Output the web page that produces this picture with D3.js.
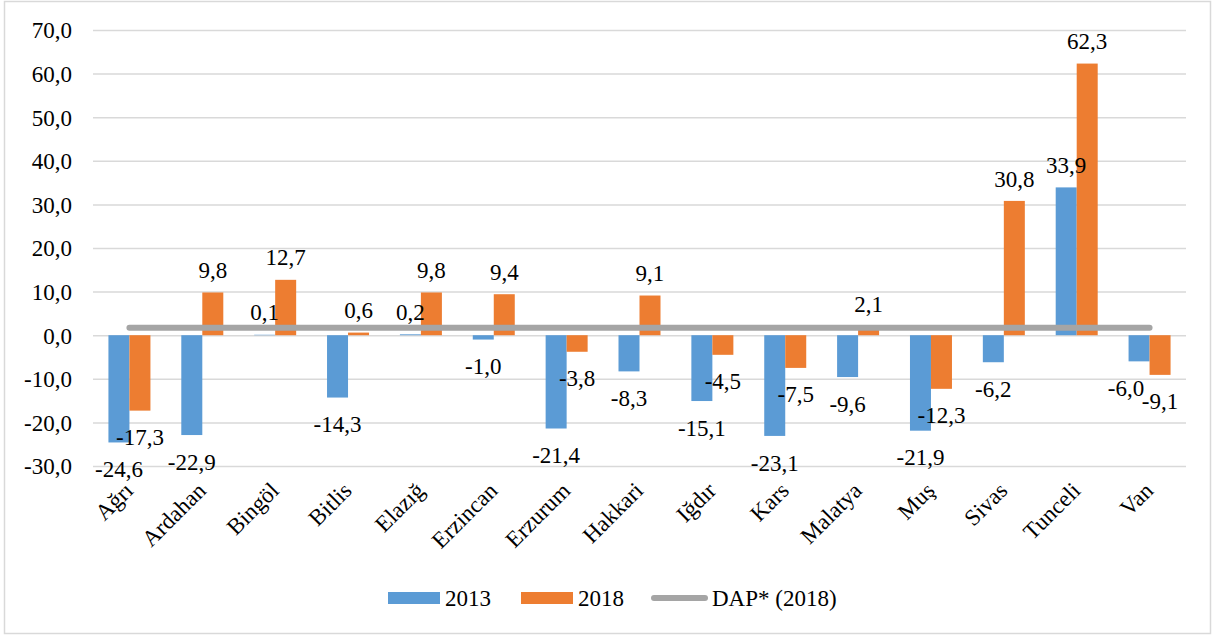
<!DOCTYPE html>
<html><head><meta charset="utf-8">
<script src="https://cdn.jsdelivr.net/npm/d3@7"></script>
<style>body{margin:0;background:#fff}svg{display:block}text{font-family:"Liberation Serif","Times New Roman",serif;fill:#000}</style>
</head><body><svg id="c" width="1215" height="637"></svg>
<script>
const categories = ["Ağrı","Ardahan","Bingöl","Bitlis","Elazığ","Erzincan","Erzurum","Hakkari","Iğdır","Kars","Malatya","Muş","Sivas","Tunceli","Van"];
const values2013 = [-24.6,-22.9,0.1,-14.3,0.2,-1.0,-21.4,-8.3,-15.1,-23.1,-9.6,-21.9,-6.2,33.9,-6.0];
const values2018 = [-17.3,9.8,12.7,0.6,9.8,9.4,-3.8,9.1,-4.5,-7.5,2.1,-12.3,30.8,62.3,-9.1];
const dap2018 = 1.7;
const yTicks = [-30,-20,-10,0,10,20,30,40,50,60,70];
const seriesNames = ["2013","2018","DAP* (2018)"];

const colors = {"2013":"#5B9BD5","2018":"#ED7D31",dap:"#A5A5A5"};
const fmt = v => v.toFixed(1).replace(".", ",");
const FS = "23px";

const svg = d3.select("#c");
svg.append("rect").attr("x",4.5).attr("y",1.5).attr("width",1206).attr("height",632)
  .attr("fill","#fff").attr("stroke","#d9d9d9").attr("stroke-width",1.5);

const x0 = 93, x1 = 1186;
const y = d3.scaleLinear().domain([-30,70]).range([466,30]);
const x = d3.scaleBand().domain(categories).range([x0,x1]).paddingInner(0).paddingOuter(0);
const inner = d3.scaleBand().domain(["2013","2018"]).range([0,x.bandwidth()]).paddingInner(0).paddingOuter(0.735);

// grid
const yAxis = d3.axisLeft(y).tickValues(yTicks).tickSize(-(x1-x0)).tickFormat(fmt);
const ga = svg.append("g").attr("transform",`translate(${x0},0)`).call(yAxis);
ga.select(".domain").remove();
ga.selectAll(".tick line").attr("stroke","#d9d9d9").attr("stroke-width",1.5);
ga.selectAll(".tick text").attr("x",-21).attr("font-size",FS).attr("dy","0.34em");

// bars
const rows = categories.map((c,i)=>({c, "2013":values2013[i], "2018":values2018[i]}));
["2013","2018"].forEach(s=>{
  svg.append("g").selectAll("rect").data(rows).join("rect")
    .attr("x",d=>x(d.c)+inner(s))
    .attr("width",inner.bandwidth())
    .attr("y",d=>y(Math.max(0,d[s])))
    .attr("height",d=>Math.abs(y(d[s])-y(0)))
    .attr("fill",colors[s]);
});

// DAP line
const line = d3.line().x(d=>x(d)+x.bandwidth()/2).y(()=>y(dap2018));
svg.append("path").datum(categories).attr("d",line)
  .attr("fill","none").attr("stroke",colors.dap).attr("stroke-width",6).attr("stroke-linecap","round");

// labels (Van 2013 label nudged left as in the original to avoid collision)
["2013","2018"].forEach(s=>{
  svg.append("g").selectAll("text").data(rows).join("text")
    .attr("x",d=>x(d.c)+inner(s)+inner.bandwidth()/2 + (s==="2013" && d.c==="Van" ? -13 : 0))
    .attr("y",d=>d[s]>=0 ? y(d[s])-22 : y(d[s])+27)
    .attr("dy","0.33em")
    .attr("text-anchor","middle").attr("font-size",FS)
    .text(d=>fmt(d[s]));
});

// x labels
svg.append("g").selectAll("text").data(categories).join("text")
  .attr("transform",d=>`translate(${x(d)+x.bandwidth()/2+5},492) rotate(-45)`)
  .attr("text-anchor","end").attr("font-size",FS)
  .text(d=>d);

// legend
const lg = svg.append("g");
lg.append("rect").attr("x",388).attr("y",592).attr("width",52).attr("height",12).attr("fill",colors["2013"]);
lg.append("text").attr("x",445).attr("y",598).attr("dy","0.33em").attr("font-size",FS).text(seriesNames[0]);
lg.append("rect").attr("x",521).attr("y",592).attr("width",52).attr("height",12).attr("fill",colors["2018"]);
lg.append("text").attr("x",578).attr("y",598).attr("dy","0.33em").attr("font-size",FS).text(seriesNames[1]);
lg.append("line").attr("x1",654).attr("x2",705).attr("y1",598).attr("y2",598).attr("stroke",colors.dap).attr("stroke-width",6).attr("stroke-linecap","round");
lg.append("text").attr("x",712).attr("y",598).attr("dy","0.33em").attr("font-size",FS).text(seriesNames[2]);
</script></body></html>
